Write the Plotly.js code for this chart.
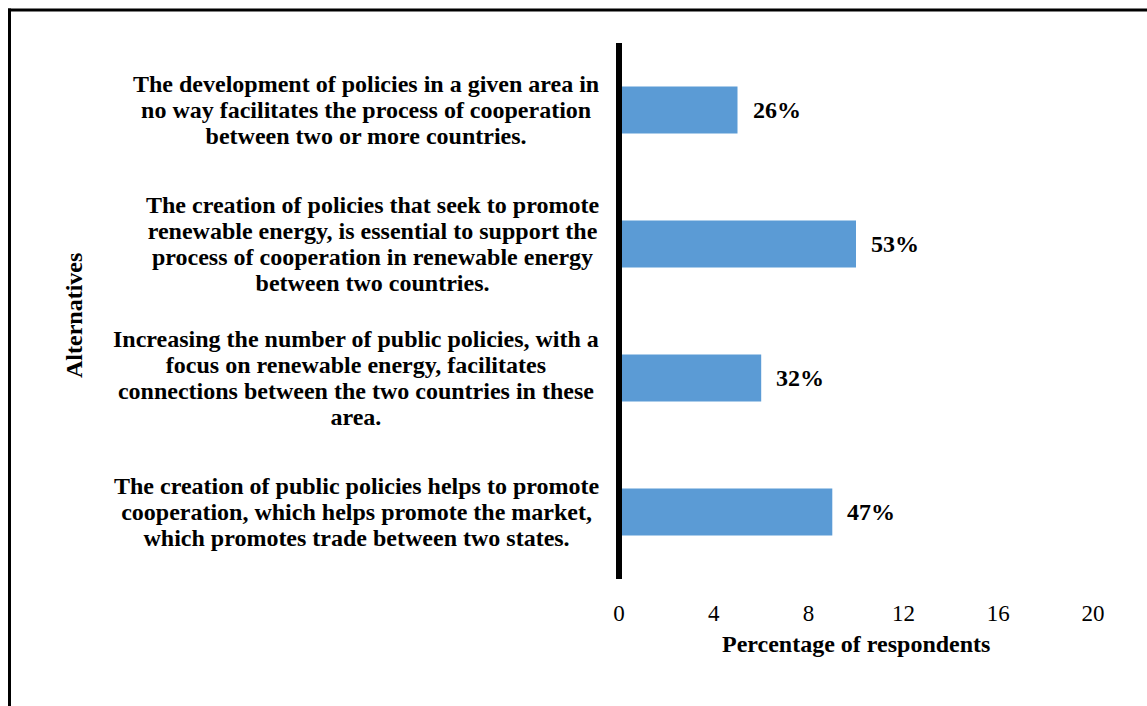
<!DOCTYPE html>
<html>
<head>
<meta charset="utf-8">
<script src="https://cdn.plot.ly/plotly-3.0.1.min.js"></script>
<style>html,body{margin:0;padding:0;background:#fff;}#chart{width:1147px;height:706px;}</style>
</head>
<body>
<div id="chart"></div>
<script>
const categories = [
  "The development of policies in a given area in<br>no way facilitates the process of cooperation<br>between two or more countries.",
  "The creation of policies that seek to promote<br>renewable energy, is essential to support the<br>process of cooperation in renewable energy<br>between two countries.",
  "Increasing the number of public policies, with a<br>focus on renewable energy, facilitates<br>connections between the two countries in these<br>area.",
  "The creation of public policies helps to promote<br>cooperation, which helps promote the market,<br>which promotes trade between two states."
];
const values = [5, 10, 6, 9];
const valueLabels = ["26%", "53%", "32%", "47%"];
const xTicks = [0, 4, 8, 12, 16, 20];
const xTitle = "Percentage of respondents";
const yTitle = "Alternatives";

const W = 1147, H = 706;
const mL = 619, mR = 54, mT = 43, mB = 127;
const pw = W - mL - mR, ph = H - mT - mB;
const px = v => (v - mL) / pw;
const py = v => (H - mB - v) / ph;
const serif = "Liberation Serif, Times New Roman, serif";

// wrap each line in a larger bold span; line spacing stays 1.3 x 20px = 26px
const bigBold = s => s.split("<br>").map(l => '<span style="font-size:24px"><b>' + l + '</b></span>').join("<br>");

const annotations = [];
categories.forEach((c, i) => {
  annotations.push({
    x: px(600), xref: "paper", y: c, yref: "y",
    text: bigBold(c), showarrow: false,
    xanchor: "right", yanchor: "middle", align: "center", borderpad: 0,
    font: {family: serif, size: 20, color: "#000"}
  });
  annotations.push({
    x: values[i], xref: "x", y: c, yref: "y",
    text: "<b>" + valueLabels[i] + "</b>", showarrow: false,
    xanchor: "left", yanchor: "middle", xshift: 13,
    font: {family: serif, size: 24, color: "#000"}
  });
});
annotations.push({
  x: px(74), xref: "paper", y: py(316), yref: "paper",
  text: "<b>" + yTitle + "</b>", showarrow: false, textangle: -90,
  xanchor: "center", yanchor: "middle",
  font: {family: serif, size: 24, color: "#000"}
});
annotations.push({
  x: 0.5, xref: "paper", y: py(644), yref: "paper",
  text: "<b>" + xTitle + "</b>", showarrow: false,
  xanchor: "center", yanchor: "middle",
  font: {family: serif, size: 24, color: "#000"}
});

const trace = {
  type: "bar", orientation: "h",
  x: values, y: categories,
  marker: {color: "#5B9BD5", line: {width: 0}},
  hoverinfo: "none"
};

const layout = {
  width: W, height: H,
  margin: {l: mL, r: mR, t: mT, b: mB, pad: 0},
  paper_bgcolor: "#fff", plot_bgcolor: "#fff",
  showlegend: false,
  bargap: 0.65,
  font: {family: serif, size: 20, color: "#000"},
  xaxis: {
    range: [0, 20], tickvals: xTicks, ticktext: xTicks.map(String),
    showgrid: false, zeroline: false, showline: false,
    ticks: "", ticklabelstandoff: 18,
    tickfont: {family: serif, size: 23, color: "#000"}
  },
  yaxis: {
    type: "category", categoryorder: "array",
    categoryarray: categories.slice().reverse(),
    range: [-0.5, 3.5],
    showticklabels: false, ticks: "", showgrid: false, zeroline: false,
    showline: false
  },
  annotations: annotations,
  shapes: [
    // vertical axis line at x = 0 (paper x 0 equals data x 0 because the range starts at 0)
    {type: "line", xref: "paper", yref: "paper", x0: 0, x1: 0, y0: 0, y1: 1, layer: "above", line: {color: "#000", width: 6}},
    {type: "line", xref: "paper", yref: "paper", x0: px(8), x1: px(1150), y0: py(10), y1: py(10), line: {color: "#000", width: 3}},
    {type: "line", xref: "paper", yref: "paper", x0: px(9.5), x1: px(9.5), y0: py(8.5), y1: py(710), line: {color: "#000", width: 3}}
  ]
};

Plotly.newPlot("chart", [trace], layout, {staticPlot: true, displayModeBar: false});
</script>
</body>
</html>
